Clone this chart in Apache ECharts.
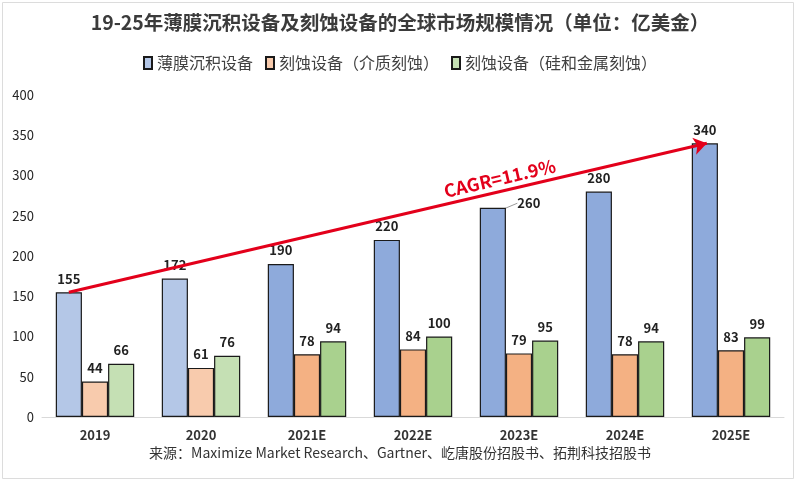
<!DOCTYPE html>
<html>
<head>
<meta charset="utf-8">
<script src="https://cdn.jsdelivr.net/npm/echarts@6/dist/echarts.min.js"></script>
<style>
html,body{margin:0;padding:0;background:#fff;}
#chart{width:800px;height:482px;}
</style>
</head>
<body>
<div id="chart"></div>
<script>
const titleText = '19-25年薄膜沉积设备及刻蚀设备的全球市场规模情况（单位：亿美金）';
const sourceText = '来源：Maximize Market Research、Gartner、屹唐股份招股书、拓荆科技招股书';
const categories = ['2019', '2020', '2021E', '2022E', '2023E', '2024E', '2025E'];
const seriesNames = ['薄膜沉积设备', '刻蚀设备（介质刻蚀）', '刻蚀设备（硅和金属刻蚀）'];
const depositionValues = [155, 172, 190, 220, 260, 280, 340];
const dielectricEtchValues = [44, 61, 78, 84, 79, 78, 83];
const siliconMetalEtchValues = [66, 76, 94, 100, 95, 94, 99];
const actualYears = ['2019', '2020'];
const cagrText = 'CAGR=11.9%';
const yMin = 0, yMax = 400, yInterval = 50;

const FONT = '"Noto Sans CJK SC", "Noto Sans", sans-serif';
const lightColors = ['#b4c7e7', '#f8cbad', '#c5e0b4'];
const darkColors = ['#8eaadb', '#f4b183', '#a9d18e'];
const movedLabelCategory = '2023E';

function makeSeries(idx, values) {
  return {
    name: seriesNames[idx],
    type: 'bar',
    barGap: '0%',
    barCategoryGap: '26%',
    itemStyle: { color: lightColors[idx], borderColor: '#1a1a1a', borderWidth: 1.2 },
    label: {
      show: true, position: 'top', distance: 7,
      fontFamily: FONT, fontSize: 13, fontWeight: 'bold', color: '#222'
    },
    labelLine: { show: false },
    data: values.map((v, i) => {
      const item = {
        value: v,
        itemStyle: { color: actualYears.includes(categories[i]) ? lightColors[idx] : darkColors[idx] }
      };
      if (idx === 0 && categories[i] === movedLabelCategory) {
        item.labelLine = { show: true, length2: 0, lineStyle: { color: '#9a9a9a', width: 1 } };
      }
      return item;
    }),
    labelLayout: idx === 0 ? function (p) {
      return categories[p.dataIndex] === movedLabelCategory ? { dx: 36, dy: 9 } : {};
    } : undefined,
    z: 2
  };
}

const chart = echarts.init(document.getElementById('chart'), null, { renderer: 'canvas' });
const frame = { type: 'rect', shape: { x: 2.5, y: 2.5, width: 791, height: 476 }, style: { fill: 'none', stroke: '#dcdcdc', lineWidth: 1 }, silent: true, z: -10 };
const source = { type: 'text', left: 'center', top: 446, style: { text: sourceText, font: '14px ' + FONT, fill: '#333' } };
const option = {
  animation: false,
  backgroundColor: '#fff',
  textStyle: { fontFamily: FONT },
  title: {
    text: titleText, left: 'center', top: 8,
    textStyle: { fontFamily: FONT, fontSize: 19.5, fontWeight: 'bold', color: '#3b3b3b' }
  },
  legend: {
    top: 50, left: 'center', icon: 'rect', itemWidth: 8, itemHeight: 12, itemGap: 12,
    textStyle: { fontFamily: FONT, fontSize: 16, color: '#404040' }
  },
  grid: { left: 42, right: 16, top: 95, bottom: 65 },
  xAxis: {
    type: 'category', data: categories,
    axisLine: { lineStyle: { color: '#d9d9d9', width: 1 } },
    axisTick: { show: false },
    axisLabel: { fontFamily: FONT, fontSize: 13, fontWeight: 'bold', color: '#333', margin: 12 }
  },
  yAxis: {
    type: 'value', min: yMin, max: yMax, interval: yInterval,
    axisLine: { show: false }, axisTick: { show: false },
    splitLine: { show: false },
    axisLabel: { fontFamily: FONT, fontSize: 13, color: '#262626', margin: 8 }
  },
  series: [
    makeSeries(0, depositionValues),
    makeSeries(1, dielectricEtchValues),
    makeSeries(2, siliconMetalEtchValues)
  ],
  graphic: [frame, source]
};
chart.setOption(option);

// CAGR arrow from the first to the last deposition bar top, using the library's bar layout
(function () {
  const data0 = chart.getModel().getSeriesByIndex(0).getData();
  const n = categories.length;
  const l0 = data0.getItemLayout(0), lN = data0.getItemLayout(n - 1);
  const sx = l0.x + l0.width / 2, sy = Math.min(l0.y, l0.y + l0.height);
  const ex = lN.x + lN.width / 2 + 2, ey = Math.min(lN.y, lN.y + lN.height);
  const ang = Math.atan2(sy - ey, ex - sx);
  const t = 0.68, off = 13;
  const px = sx + (ex - sx) * t - Math.sin(ang) * off;
  const py = sy + (ey - sy) * t - Math.cos(ang) * off;
  chart.setOption({
    series: [{
      markLine: {
        silent: true, symbol: ['none', 'arrow'], symbolSize: [13, 13],
        lineStyle: { color: '#e3001b', width: 3, type: 'solid' },
        label: { show: false },
        data: [[{ x: sx, y: sy }, { x: ex, y: ey }]],
        z: 5
      }
    }],
    graphic: [frame, source,
      { type: 'text', x: px, y: py, rotation: ang, z: 10,
        style: { text: cagrText, font: 'bold 18px ' + FONT, fill: '#e3001b', align: 'center', verticalAlign: 'middle' } }
    ]
  });
})();
</script>
</body>
</html>
